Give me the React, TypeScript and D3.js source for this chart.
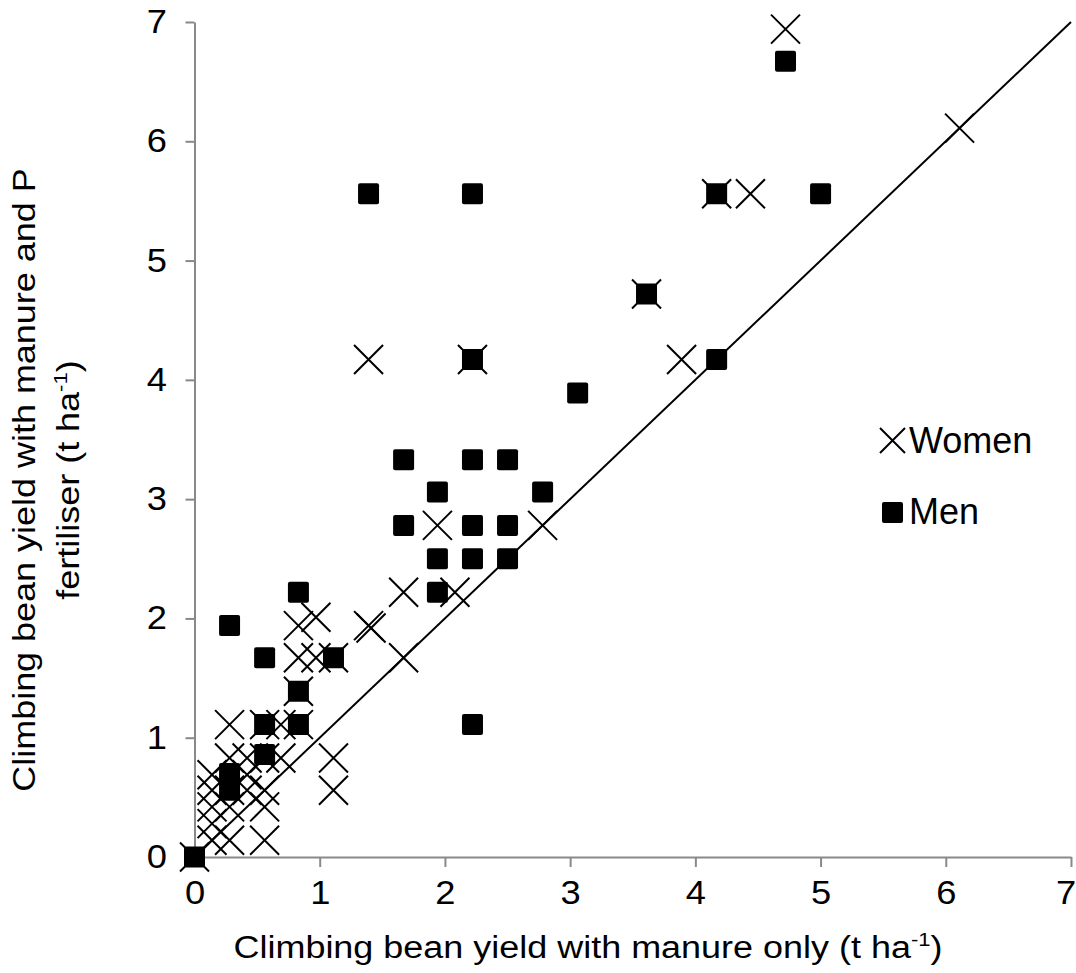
import { useEffect, useRef } from "react";
import { select, scaleLinear, axisBottom, axisLeft, range, format } from "d3";

// yields in t/ha: [manure only, manure + P]
const women: [number, number][] = [
  [0, 0], [0.14, 0.14], [0.14, 0.28], [0.14, 0.42], [0.14, 0.56], [0.14, 0.69],
  [0.28, 0.14], [0.28, 0.42], [0.28, 0.56], [0.28, 0.83], [0.28, 1.11],
  [0.42, 0.56], [0.42, 0.69], [0.42, 0.83],
  [0.56, 0.14], [0.56, 0.42], [0.56, 0.56], [0.56, 0.83], [0.56, 1.11],
  [0.69, 0.83], [0.69, 1.11], [0.83, 1.11], [1.11, 0.56], [1.11, 0.83],
  [0.83, 1.39], [0.83, 1.67], [0.97, 1.67], [1.11, 1.67], [0.83, 1.94], [0.97, 2.01],
  [1.39, 1.94], [1.41, 1.92], [1.67, 1.67], [1.67, 2.22], [2.08, 2.22],
  [1.94, 2.78], [2.78, 2.78], [1.39, 4.17], [2.22, 4.17], [3.89, 4.17],
  [3.61, 4.72], [4.17, 5.56], [4.44, 5.56], [4.72, 6.94], [6.11, 6.11],
];

const men: [number, number][] = [
  [0, 0], [0.28, 0.56], [0.28, 0.7], [0.28, 1.94], [0.56, 0.86], [0.56, 1.11],
  [0.56, 1.67], [0.83, 1.11], [0.83, 1.39], [0.83, 2.22], [1.11, 1.67],
  [1.39, 5.56], [1.67, 2.78], [1.67, 3.33], [1.94, 2.22], [1.94, 2.5], [1.94, 3.06],
  [2.22, 1.11], [2.22, 2.5], [2.22, 2.78], [2.22, 3.33], [2.22, 4.17], [2.22, 5.56],
  [2.5, 2.5], [2.5, 2.78], [2.5, 3.33], [2.78, 3.06], [3.06, 3.89], [3.61, 4.72],
  [4.17, 4.17], [4.17, 5.56], [4.72, 6.67], [5.0, 5.56],
];

const ticks = range(0, 8);
const seriesNames = ["Women", "Men"];

const W = 1076;
const H = 973;
const FONT = "'Liberation Sans', Arial, sans-serif";
const AXIS = "#898989";
const STRETCH = 1.16; // the original text is a bit wider than Arial

const App = () => {
  const svgRef = useRef<SVGSVGElement>(null);

  useEffect(() => {
    const svg = select(svgRef.current);
    svg.selectAll("*").remove();

    const x = scaleLinear().domain([0, 7]).range([194.5, 1071]);
    const y = scaleLinear().domain([0, 7]).range([857, 22]);

    // axes
    const xAxis = svg
      .append("g")
      .attr("transform", `translate(0,${y(0)})`)
      .call(
        axisBottom(x).tickValues(ticks).tickFormat(format("d")).tickSize(10).tickSizeOuter(0).tickPadding(7)
      );
    const yAxis = svg
      .append("g")
      .attr("transform", `translate(${x(0)},0)`)
      .call(
        axisLeft(y).tickValues(ticks).tickFormat(format("d")).tickSize(9).tickSizeOuter(0).tickPadding(16)
      );

    [xAxis, yAxis].forEach((g) => {
      g.selectAll("path, line").attr("stroke", AXIS).attr("stroke-width", 2);
      g.selectAll("text")
        .attr("fill", "#000")
        .attr("transform", `scale(1.1,1)`)
        .style("font-family", FONT)
        .style("font-size", "33px");
    });
    xAxis.selectAll("text").attr("dy", "0.9em");
    // keep the last label inside the picture
    xAxis
      .selectAll("text")
      .filter((d) => d === 7)
      .attr("x", -5);

    // 1:1 line
    svg
      .append("line")
      .attr("x1", x(0))
      .attr("y1", y(0))
      .attr("x2", x(7))
      .attr("y2", y(7))
      .attr("stroke", "#000")
      .attr("stroke-width", 2);

    const cross = (g, cx, cy, r) => {
      g.append("path")
        .attr("d", `M${cx - r},${cy - r}L${cx + r},${cy + r}M${cx - r},${cy + r}L${cx + r},${cy - r}`)
        .attr("stroke", "#000")
        .attr("stroke-width", 2)
        .attr("fill", "none");
    };

    const gw = svg.append("g");
    women.forEach(([a, b]) => cross(gw, x(a), y(b), 14.5));

    svg
      .append("g")
      .selectAll("rect")
      .data(men)
      .enter()
      .append("rect")
      .attr("x", (d) => x(d[0]) - 10.5)
      .attr("y", (d) => y(d[1]) - 10.5)
      .attr("width", 21)
      .attr("height", 21)
      .attr("rx", 2)
      .attr("fill", "#000");

    // legend
    const lg = svg.append("g");
    cross(lg, 892.5, 440.5, 12.5);
    lg.append("rect")
      .attr("x", 882)
      .attr("y", 502)
      .attr("width", 21)
      .attr("height", 21)
      .attr("rx", 2)
      .attr("fill", "#000");
    lg.selectAll("text")
      .data(seriesNames)
      .enter()
      .append("text")
      .attr("x", 909)
      .attr("y", (d, i) => (i === 0 ? 453 : 524))
      .style("font-family", FONT)
      .style("font-size", "36px")
      .text((d) => d);

    // axis titles
    const xt = svg
      .append("g")
      .attr("transform", `translate(588,958) scale(${STRETCH},1)`)
      .append("text")
      .attr("text-anchor", "middle")
      .style("font-family", FONT)
      .style("font-size", "31px");
    xt.append("tspan").text("Climbing bean yield with manure only (t ha");
    xt.append("tspan").attr("dy", -12).style("font-size", "19px").text("-1");
    xt.append("tspan").attr("dy", 12).text(")");

    const yt = svg
      .append("g")
      .attr("transform", `translate(0,480) rotate(-90) scale(${STRETCH},1)`)
      .style("font-family", FONT)
      .style("font-size", "31px");
    yt.append("text")
      .attr("x", 0)
      .attr("y", 35)
      .attr("text-anchor", "middle")
      .text("Climbing bean yield with manure and P");
    const y2 = yt.append("text").attr("x", 0).attr("y", 79).attr("text-anchor", "middle");
    y2.append("tspan").text("fertiliser (t ha");
    y2.append("tspan").attr("dy", -12).style("font-size", "19px").text("-1");
    y2.append("tspan").attr("dy", 12).text(")");
  }, []);

  return (
    <div style={{ position: "absolute", left: 0, top: 0 }}>
      <svg ref={svgRef} width={W} height={H} style={{ display: "block", background: "#fff" }}></svg>
    </div>
  );
};

export default App;
